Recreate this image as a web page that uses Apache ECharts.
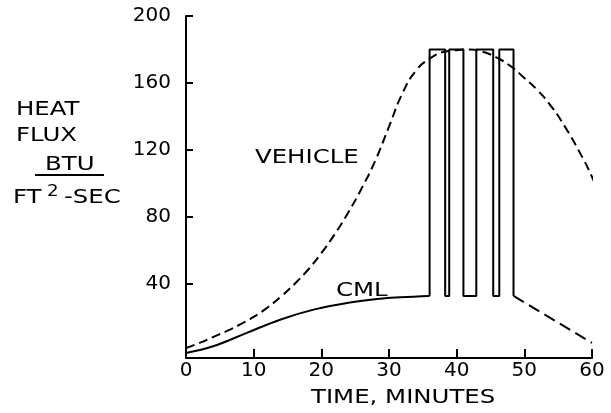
<!DOCTYPE html>
<html>
<head>
    <meta charset="UTF-8">
    <script src="https://cdn.jsdelivr.net/npm/echarts@6/dist/echarts.min.js"></script>
    <style>
        * { margin: 0; padding: 0; }
        body { background: #fff; }
        #main { width: 611px; height: 413px; }
    </style>
</head>
<body>
<div id="main"></div>
<script>
    // time (minutes), heat flux (BTU/ft2-sec)
    var vehicle = [
        [0, 2], [2, 5], [4, 8.5], [6, 12], [8, 16], [10, 20.5], [12, 26], [14, 32.5],
        [16, 40], [18, 48.5], [20, 58.5], [22, 70], [24, 83], [26, 97.5], [28, 114],
        [30, 134], [32, 154], [34, 167.5], [36, 174.5], [38, 178.5], [40, 179.6],
        [42, 180], [44, 178.5], [46, 175], [48, 170], [50, 163], [52, 155.5],
        [54, 146], [56, 134], [58, 120], [60, 104], [62, 84], [62.7, 77]
    ];
    var cmlCurve = [
        [0, -1], [4, 3], [9, 11], [14, 19], [19, 25], [24, 29],
        [28.7, 31.4], [31.7, 32.2], [36, 33]
    ];
    var cmlPulses = [
        [36, 33], [36, 180], [38.3, 180], [38.3, 33], [38.9, 33], [38.9, 180],
        [41, 180], [41, 33], [42.9, 33], [42.9, 180], [45.4, 180], [45.4, 33],
        [46.3, 33], [46.3, 180], [48.4, 180], [48.4, 33]
    ];
    var cmlTail = [[48.4, 33], [60, 5]];
    var yTicks = [40, 80, 120, 160, 200];

    var font = 'DejaVu Sans';
    var chart = echarts.init(document.getElementById('main'));

    // lettering on the original is wide, so stretch the free text a bit
    function label(txt, x, y, size) {
        return {
            type: 'text', x: x, y: y, scaleX: 1.22,
            style: {
                text: txt, fontFamily: font, fontSize: size || 20, fill: '#000',
                textAlign: 'left', textVerticalAlign: 'top'
            }
        };
    }

    var option = {
        animation: false,
        backgroundColor: '#fff',
        grid: {
            left: 186, right: 19, top: 16, bottom: 55,
            containLabel: false,
            outerBoundsMode: 'none'
        },
        xAxis: {
            type: 'value',
            min: 0,
            max: 60,
            interval: 10,
            axisLine: { onZero: false, lineStyle: { color: '#000', width: 2 } },
            axisTick: { inside: true, length: 9, lineStyle: { color: '#000', width: 2 } },
            axisLabel: { color: '#000', fontFamily: font, fontSize: 20, margin: 3 },
            splitLine: { show: false }
        },
        yAxis: {
            type: 'value',
            min: -4,
            max: 200,
            axisLine: { show: true, onZero: false, lineStyle: { color: '#000', width: 2 } },
            axisTick: {
                show: true, inside: true, length: 7, customValues: yTicks,
                lineStyle: { color: '#000', width: 2 }
            },
            axisLabel: {
                color: '#000', fontFamily: font, fontSize: 20, margin: 15,
                customValues: yTicks
            },
            splitLine: { show: false }
        },
        series: [
            {
                name: 'VEHICLE',
                type: 'line',
                data: vehicle,
                smooth: 0.5,
                clip: false,
                showSymbol: false,
                lineStyle: { color: '#000', width: 2, type: [9, 5] }
            },
            {
                name: 'CML',
                type: 'line',
                data: cmlCurve,
                smooth: 0.4,
                showSymbol: false,
                lineStyle: { color: '#000', width: 2 }
            },
            {
                name: 'CML pulses',
                type: 'line',
                data: cmlPulses,
                showSymbol: false,
                lineStyle: { color: '#000', width: 2 }
            },
            {
                name: 'CML tail',
                type: 'line',
                data: cmlTail,
                showSymbol: false,
                lineStyle: { color: '#000', width: 2, type: [12, 6] }
            }
        ],
        graphic: [
            label('HEAT', 16, 100),
            label('FLUX', 16, 126),
            label('BTU', 45, 155),
            { type: 'line', shape: { x1: 35, y1: 175, x2: 104, y2: 175 }, style: { stroke: '#000', lineWidth: 2 } },
            label('FT', 13, 188),
            label('2', 47, 185, 15),
            label('-SEC', 64, 188),
            label('VEHICLE', 255, 148),
            label('CML', 336, 281),
            label('TIME, MINUTES', 311, 388)
        ]
    };

    chart.setOption(option);
</script>
</body>
</html>
